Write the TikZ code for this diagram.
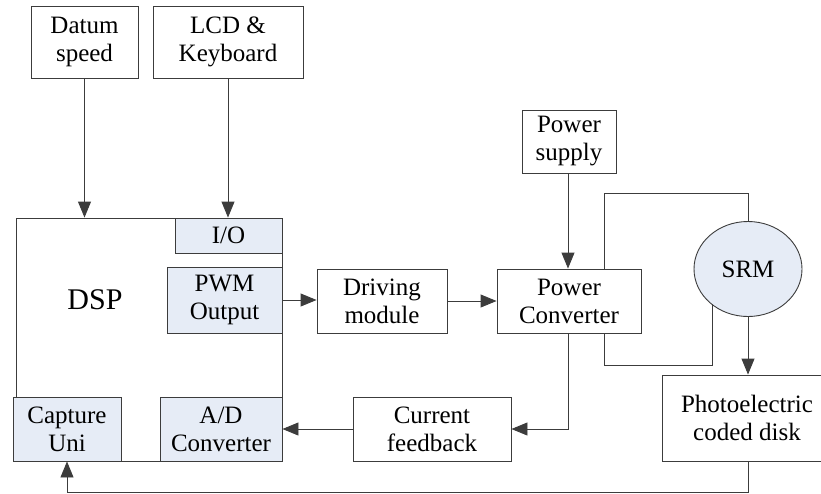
\documentclass[tikz,border=0pt]{standalone}
\usepackage{fontspec}
\setmainfont{Liberation Serif}
\usetikzlibrary{arrows.meta,shapes.geometric}
\definecolor{boxfill}{RGB}{230,236,246}
\definecolor{linec}{RGB}{60,60,60}
\begin{document}
\begin{tikzpicture}[x=1pt,y=-1pt,
  every node/.style={font=\fontsize{25}{28}\selectfont},
  blk/.style={draw=linec, line width=0.9pt, rectangle, inner sep=0pt, align=center},
  sub/.style={blk, fill=boxfill},
  wire/.style={draw=linec, line width=0.9pt},
  arr/.style={wire, -{Triangle[length=16pt,width=13pt]}}]
\useasboundingbox (0,0) rectangle (821,493);
% boxes
\node[blk, minimum width=107pt, minimum height=72pt] (datum) at (84.5,42) {Datum\\speed};
\node[blk, minimum width=150pt, minimum height=72pt] (lcd) at (228,42) {LCD \&\\Keyboard};
\node[blk, minimum width=266pt, minimum height=243pt] (dsp) at (149,339.5) {};
\node[font=\fontsize{30}{33}\selectfont] (dsptxt) at (95,300) {DSP};
\node[sub, minimum width=107pt, minimum height=35pt] (io) at (228.5,235.5) {I/O};
\node[sub, minimum width=115pt, minimum height=66pt] (pwm) at (224.5,300) {PWM\\Output};
\node[sub, minimum width=108pt, minimum height=64pt] (cap) at (67,429) {Capture\\Uni};
\node[sub, minimum width=122pt, minimum height=64pt] (ad) at (221,429) {A/D\\Converter};
\node[blk, minimum width=130pt, minimum height=64pt] (drive) at (382,301) {Driving\\module};
\node[blk, minimum width=144pt, minimum height=64pt] (pc) at (569,301) {Power\\Converter};
\node[blk, minimum width=94pt, minimum height=63pt] (ps) at (569,141.5) {Power\\supply};
\node[draw=linec, line width=0.9pt, fill=boxfill, ellipse, inner sep=0pt, minimum width=108pt, minimum height=95pt] (srm) at (748,269) {SRM};
\node[blk, minimum width=163pt, minimum height=86pt] (photo) at (743.5,418) {};
\node[align=center] (phototxt) at (747,418) {Photoelectric\\coded disk};
\node[blk, minimum width=158pt, minimum height=64pt] (cf) at (432,429) {Current\\feedback};
% helper coordinates
\coordinate (c1) at (604,193);
\coordinate (c2) at (748,193);
\coordinate (c3) at (604,365);
\coordinate (c4) at (712,365);
\coordinate (c5) at (712,304);
\coordinate (c6) at (568,429);
\coordinate (c7) at (748,492);
\coordinate (c8) at (67,492);
% connectors
\draw[arr] (84.5,78) -- (dsp.north -| 84.5,0);
\draw[arr] (lcd.south) -- (io.north -| lcd.south);
\draw[arr] (pwm.east) -- (drive.west |- pwm.east);
\draw[arr] (drive.east) -- (pc.west);
\draw[arr] (ps.south -| 568,0) -- (pc.north -| 568,0);
\draw[wire] (pc.north -| c1) -- (c1) -- (c2) -- (srm.north);
\draw[wire] (pc.south -| c3) -- (c3) -- (c4) -- (c5);
\draw[arr] (srm.south) -- (photo.north -| srm.south);
\draw[arr] (pc.south -| c6) -- (c6) -- (cf.east |- c6);
\draw[arr] (cf.west) -- (ad.east);
\draw[arr] (photo.south -| c7) -- (c7) -- (c8) -- (cap.south);
\end{tikzpicture}
\end{document}
